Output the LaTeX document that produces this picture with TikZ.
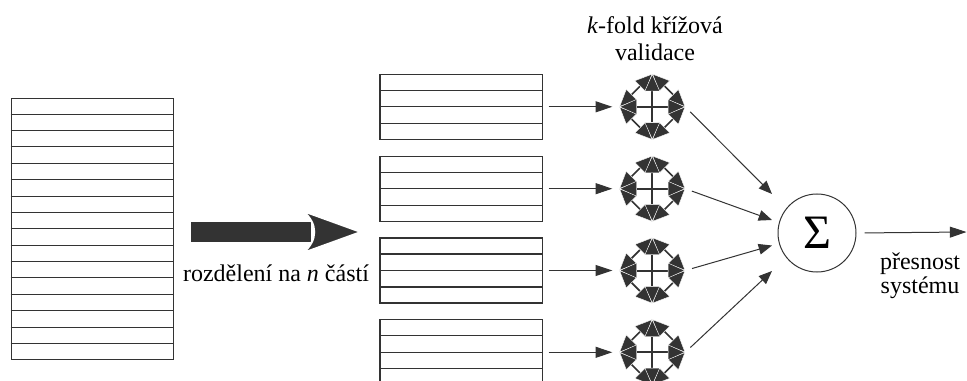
\documentclass[tikz,border=0pt]{standalone}
\usepackage{fontspec}
\setmainfont{Liberation Serif}
\usetikzlibrary{arrows.meta,calc}
\definecolor{ink}{HTML}{333333}
\tikzset{foldhead/.tip={Triangle[length=13pt,width=11.5pt,fill=ink,color=white,line width=0.3pt]}}
\begin{document}
\begin{tikzpicture}[x=0.75pt,y=-0.75pt,
  stackbox/.style={draw=ink, line width=0.8pt, inner sep=0pt, minimum width=122pt},
  rowline/.style={draw=ink, line width=0.8pt},
  link/.style={draw=ink, line width=0.75pt, -{Triangle[length=12.5pt,width=8.2pt,fill=ink]}},
  conv/.style={draw=ink, line width=0.75pt, -{Triangle[length=10pt,width=8pt,fill=ink]}},
  foldpt/.style={circle, inner sep=0pt, minimum size=49pt},
  foldspoke/.style={draw=ink, line width=1.5pt, -{foldhead}},
  foldrim/.style={draw=ink, line width=1.2pt, {foldhead}-{foldhead}},
  lbl/.style={font=\fontsize{18}{20.5}\selectfont, inner sep=0pt, align=center}
]
\useasboundingbox (0,0) rectangle (967,381);

% input data set, split into 16 rows
\node[stackbox, minimum height=195.75pt] (big) at (92.5,228.8) {};
\foreach \i in {1,...,15}
  \draw[rowline] ($(big.north west)!\i/16!(big.south west)$) -- ($(big.north east)!\i/16!(big.south east)$);

% splitting arrow
\fill[ink] (191,221.7) rectangle (311,242.3);
\filldraw[fill=ink, draw=white, line width=1.5pt]
  (303,211) -- (361,232) -- (303,253) .. controls (318,240) and (318,224) .. (303,211);
\node[lbl, anchor=base] (splitlbl) at (276,281.7) {rozdělení na \textit{n} částí};

% the n parts, each with 4 rows
\foreach \k/\y in {1/106.8, 2/188.7, 3/270.5, 4/352.3} {
  \node[stackbox, minimum height=48.75pt] (part\k) at (461.3,\y) {};
  \foreach \i in {1,2,3}
    \draw[rowline] ($(part\k.north west)!\i/4!(part\k.south west)$) -- ($(part\k.north east)!\i/4!(part\k.south east)$);
  % cross-validation symbol
  \node[foldpt] (fold\k) at (652.3,\y) {};
  \draw[foldrim] (fold\k.north) -- (fold\k.east);
  \draw[foldrim] (fold\k.east) -- (fold\k.south);
  \draw[foldrim] (fold\k.south) -- (fold\k.west);
  \draw[foldrim] (fold\k.west) -- (fold\k.north);
  \foreach \a in {north,east,south,west}
    \draw[foldspoke] (fold\k.center) -- (fold\k.\a);
  \draw[link, shorten <=4pt, shorten >=5.3pt] (part\k.east) -- (fold\k.west);
}

\node[lbl, anchor=base, font=\fontsize{18}{20.8}\selectfont] (foldlbl) at (655,33.3) {\textit{k}-fold křížová};
\node[lbl, anchor=base] (foldlbl2) at (655,61) {validace};

% summation
\node[circle, draw=ink, line width=0.75pt, minimum size=58.5pt, inner sep=0pt,
      font=\fontsize{36}{36}\selectfont] (sum) at (817,233) {Σ};

\coordinate (t1) at (772,194);
\coordinate (t2) at (772,220);
\coordinate (t3) at (772,245.5);
\coordinate (t4) at (772,271);
\foreach \k in {1,...,4}
  \draw[conv, shorten <=5.3pt] (fold\k.east) -- (t\k);

\coordinate (out) at (966.5,232);
\draw[link, shorten <=6pt] (sum.east) -- (out);
\node[lbl, anchor=base] (acc1) at (920,269.3) {přesnost};
\node[lbl, anchor=base] (acc2) at (920,293.3) {systému};
\end{tikzpicture}
\end{document}
